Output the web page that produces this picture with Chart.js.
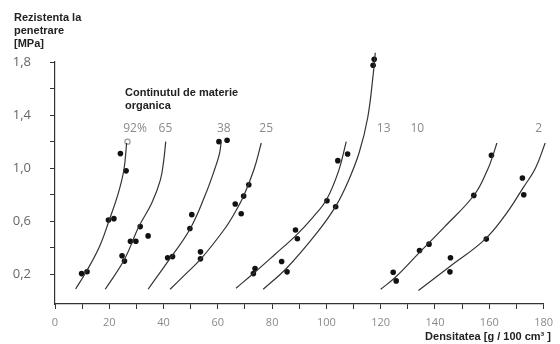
<!DOCTYPE html>
<html>
<head>
<meta charset="utf-8">
<script src="https://cdn.jsdelivr.net/npm/chart.js@4/dist/chart.umd.min.js"></script>
<style>
  html, body { margin: 0; padding: 0; background: #fff; }
  #wrap { width: 560px; height: 344px; position: relative; }
</style>
</head>
<body>
<div id="wrap"><canvas id="c"></canvas></div>
<script>
// fitted curves (density, resistance)
const curve92 = [[7.6,0.09],[11.5,0.22],[16.4,0.41],[20,0.61],[23.3,0.81],[25.4,0.99],[26.4,1.19]];
const curve65 = [[18.5,0.088],[25.5,0.31],[30.9,0.56],[35.7,0.74],[38.8,0.91],[40.0,1.05],[40.8,1.2]];
const curve38 = [[34.3,0.088],[42.4,0.32],[49.7,0.54],[55.2,0.79],[58.8,0.99],[60.6,1.11],[61.2,1.195]];
const curve25 = [[42.4,0.088],[48,0.2],[53.9,0.32],[62.4,0.54],[66.4,0.67],[69.5,0.79],[73.3,0.99],[76,1.19]];
const curveA = [[66.7,0.096],[73.3,0.21],[81,0.35],[89.1,0.5],[95,0.63],[100,0.762],[104.5,0.98],[107.3,1.2]];
const curveB = [[76.7,0.088],[85.5,0.25],[96.4,0.51],[103.4,0.712],[108,0.9],[112.1,1.12],[115.2,1.38],[117.2,1.7],[118,1.87]];
const curveC = [[120,0.088],[125.5,0.18],[134.5,0.37],[143.6,0.56],[154.5,0.8],[159.4,0.99],[161.4,1.1],[162.8,1.19]];
const curveD = [[133.9,0.078],[145.5,0.26],[158.2,0.46],[166,0.65],[172.4,0.85],[177,1.0],[180.6,1.19]];

// measured points
const dots92 = [[9.8,0.206],[11.8,0.22],[19.7,0.61],[21.7,0.62],[24.1,1.11],[26.2,0.98]];
const dots65 = [[24.7,0.34],[25.6,0.30],[27.8,0.45],[29.8,0.45],[31.4,0.56],[34.3,0.49]];
const dots38 = [[41.5,0.325],[43.3,0.334],[49.7,0.546],[50.4,0.65],[60.4,1.2],[63.4,1.21]];
const dots25 = [[53.6,0.37],[53.6,0.317],[66.4,0.73],[68.6,0.657],[69.5,0.79],[71.4,0.875]];
const dotsA = [[73.7,0.244],[73.1,0.206],[88.6,0.534],[89.3,0.468],[100.2,0.755],[104.2,1.057],[107.8,1.107]];
const dotsB = [[83.5,0.297],[85.5,0.219],[103.4,0.71],[117.6,1.82],[117.2,1.776]];
const dotsC = [[124.6,0.216],[125.7,0.151],[134.3,0.38],[137.8,0.428],[154.3,0.795],[160.8,1.097]];
const dotsD = [[145.7,0.325],[145.5,0.219],[158.9,0.466],[172.2,0.926],[172.7,0.8]];
const hollowDot = [[26.7,1.2]];

// labels
const curveLabels = ['92%', '65', '38', '25', '13', '10', '2'];
const curveLabelX = [29.5, 40.7, 62.2, 77.8, 121.1, 133.5, 178.2];
const curveLabelY = 1.30;
const yTickValues = [0.2, 0.4, 0.6, 0.8, 1.0, 1.2, 1.4, 1.6, 1.8];
const yLabelled = [0.2, 0.6, 1.0, 1.4, 1.8];
const yTitle = ['Rezistenta la', 'penetrare', '[MPa]'];
const groupTitle = ['Continutul de materie', 'organica'];
const xTitle = 'Densitatea [g / 100 cm³ ]';

const toXY = arr => arr.map(p => ({ x: p[0], y: p[1] }));

function lineSet(arr) {
    return {
        type: 'line',
        data: toXY(arr),
        showLine: true,
        borderColor: '#333',
        borderWidth: 1.2,
        pointRadius: 0,
        tension: 0.4,
        fill: false,
        clip: false
    };
}

const allDots = [].concat(dots92, dots65, dots38, dots25, dotsA, dotsB, dotsC, dotsD);

// textes hors axes
const textPlugin = {
    id: 'texts',
    afterDraw(chart) {
        const ctx = chart.ctx;
        const xs = chart.scales.x, ys = chart.scales.y;
        ctx.save();
        ctx.fillStyle = '#222';
        ctx.font = 'bold 11px "Liberation Sans", Arial, sans-serif';
        ctx.textAlign = 'left';
        ctx.textBaseline = 'alphabetic';
        yTitle.forEach((t, i) => ctx.fillText(t, 14, 21 + i * 13));
        groupTitle.forEach((t, i) => ctx.fillText(t, 125, 96 + i * 13));
        ctx.textAlign = 'right';
        ctx.fillText(xTitle, 551, 340);

        ctx.fillStyle = '#8a8a8a';
        ctx.font = '12px "Open Sans", sans-serif';
        ctx.textAlign = 'center';
        ctx.textBaseline = 'middle';
        const py = ys.getPixelForValue(curveLabelY);
        curveLabels.forEach((t, i) => ctx.fillText(t, xs.getPixelForValue(curveLabelX[i]), py));
        ctx.restore();
    }
};

const datasets = [curve92, curve65, curve38, curve25, curveA, curveB, curveC, curveD].map(lineSet);
datasets.push({
    type: 'scatter',
    data: toXY(allDots),
    pointRadius: 2.8,
    pointBackgroundColor: '#111',
    pointBorderWidth: 0,
    clip: false
});
datasets.push({
    type: 'scatter',
    data: toXY(hollowDot),
    pointRadius: 2.6,
    pointBackgroundColor: '#fff',
    pointBorderColor: '#999',
    pointBorderWidth: 1.2,
    clip: false
});

new Chart(document.getElementById('c'), {
    type: 'scatter',
    data: { datasets: datasets },
    options: {
        responsive: true,
        maintainAspectRatio: false,
        animation: false,
        layout: { padding: { left: 0, top: 62, right: 10, bottom: 0 } },
        plugins: { legend: { display: false }, tooltip: { enabled: false } },
        scales: {
            x: {
                type: 'linear',
                min: 0,
                max: 180,
                afterFit: s => { s.height = 40; },
                ticks: {
                    stepSize: 10,
                    color: '#8a8a8a',
                    font: { family: '"Open Sans", sans-serif', size: 11 },
                    padding: 7,
                    maxRotation: 0,
                    autoSkip: false,
                    callback: v => (v % 20 === 0 ? String(v) : '')
                },
                grid: { drawOnChartArea: false, drawTicks: true, tickLength: 5, color: '#333' },
                border: { display: true, color: '#333', width: 1.2 }
            },
            y: {
                type: 'linear',
                min: -0.023,
                max: 1.8,
                afterFit: s => { s.width = 55; },
                afterBuildTicks: s => { s.ticks = yTickValues.map(v => ({ value: v })); },
                ticks: {
                    color: '#666',
                    font: { family: '"Open Sans", sans-serif', size: 13 },
                    padding: 19,
                    autoSkip: false,
                    callback: v => {
                        const r = Math.round(v * 10) / 10;
                        return yLabelled.some(l => Math.abs(l - r) < 1e-6) ? r.toFixed(1).replace('.', ',') : '';
                    }
                },
                grid: { drawOnChartArea: false, drawTicks: true, tickLength: 5, color: '#333' },
                border: { display: true, color: '#333', width: 1.2 }
            }
        }
    },
    plugins: [textPlugin]
});
</script>
</body>
</html>
